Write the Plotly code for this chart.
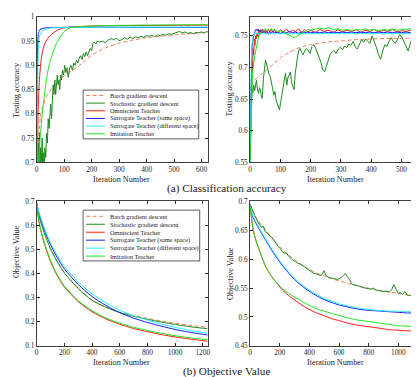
import plotly.graph_objects as go

W, H = 419, 377
FONT = "Liberation Serif"

names = ["Batch gradient descent", "Stochastic gradient descent", "Omniscient Teacher",
         "Surrogate Teacher (same space)", "Surrogate Teacher (different space)", "Imitation Teacher"]
colors = ["#EE8055", "#1F8A1F", "#FF1A1A", "#1A1AFF", "#22F0F0", "#1EE61E"]

# ---------------- (a) accuracy, left panel ----------------
a1_batch_x = [0, 5, 10, 15, 25, 40, 60, 80, 100, 125, 150, 175, 200, 250, 300, 350, 400, 450, 500, 550, 600, 625]
a1_batch_y = [0.5, 0.7, 0.77, 0.8, 0.82, 0.84, 0.856, 0.868, 0.878, 0.888, 0.897, 0.91, 0.921, 0.936, 0.946,
              0.952, 0.957, 0.96, 0.963, 0.965, 0.967, 0.968]
a1_sgd_x = [0, 2, 4, 6, 8, 10, 12, 14, 16, 18, 20, 22, 24, 26, 28, 30, 33, 36, 39, 42, 45, 48, 51, 54, 57, 60,
            63, 66, 69, 72, 75, 78, 81, 84, 87, 90, 94, 98, 102, 106, 110, 115, 120, 125, 130, 135, 140, 145,
            150, 155, 160, 165, 170, 175, 180, 185, 190, 195, 200, 205, 210, 215, 220, 230, 240, 250, 260, 270,
            280, 290, 300, 310, 320, 330, 340, 350, 360, 370, 380, 390, 400, 410, 420, 430, 440, 450, 460, 470,
            480, 490, 500, 510, 520, 530, 540, 550, 560, 570, 580, 590, 600, 610, 620, 625]
a1_sgd_y = [0.5, 0.6, 0.68, 0.74, 0.7, 0.76, 0.68, 0.73, 0.66, 0.72, 0.75, 0.69, 0.72, 0.66, 0.7, 0.73, 0.71,
            0.76, 0.74, 0.79, 0.77, 0.8, 0.82, 0.79, 0.83, 0.86, 0.84, 0.87, 0.84, 0.86, 0.88, 0.86, 0.87, 0.85,
            0.88, 0.87, 0.89, 0.88, 0.9, 0.885, 0.895, 0.875, 0.895, 0.9, 0.89, 0.905, 0.9, 0.91, 0.905, 0.915,
            0.92, 0.912, 0.925, 0.918, 0.928, 0.92, 0.93, 0.935, 0.93, 0.945, 0.948, 0.944, 0.95, 0.948, 0.95,
            0.947, 0.952, 0.955, 0.953, 0.956, 0.951, 0.953, 0.957, 0.954, 0.958, 0.955, 0.959, 0.957, 0.96,
            0.958, 0.961, 0.96, 0.962, 0.959, 0.963, 0.961, 0.964, 0.962, 0.965, 0.964, 0.966, 0.968, 0.97,
            0.967, 0.969, 0.966, 0.968, 0.965, 0.968, 0.967, 0.969, 0.967, 0.97, 0.969]
a1_omni_x = [0, 3, 6, 10, 15, 20, 30, 45, 65, 90, 120, 150, 200, 300, 625]
a1_omni_y = [0.5, 0.72, 0.82, 0.87, 0.905, 0.925, 0.945, 0.959, 0.969, 0.976, 0.979, 0.98, 0.981, 0.982, 0.983]
a1_same_x = [0, 1, 2, 3, 5, 8, 12, 20, 30, 50, 625]
a1_same_y = [0.5, 0.7, 0.85, 0.92, 0.96, 0.97, 0.974, 0.976, 0.977, 0.978, 0.978]
a1_diff_x = [0, 2, 4, 6, 8, 12, 20, 30, 50, 100, 625]
a1_diff_y = [0.5, 0.75, 0.88, 0.93, 0.95, 0.963, 0.97, 0.974, 0.977, 0.978, 0.979]
a1_imit_x = [0, 5, 10, 17, 23, 29, 35, 41, 47, 53, 65, 75, 83, 92, 101, 112, 125, 160, 250, 400, 625]
a1_imit_y = [0.5, 0.66, 0.73, 0.78, 0.815, 0.843, 0.868, 0.889, 0.904, 0.916, 0.936, 0.948, 0.956, 0.964,
             0.97, 0.975, 0.978, 0.98, 0.982, 0.983, 0.984]

# ---------------- (a) accuracy, right panel ----------------
a2_batch_x = [0, 2, 5, 20, 40, 60, 80, 100, 125, 150, 175, 200, 250, 300, 350, 400, 450, 500, 555]
a2_batch_y = [0.55, 0.64, 0.677, 0.682, 0.69, 0.698, 0.707, 0.715, 0.723, 0.729, 0.733, 0.736, 0.74, 0.742,
              0.744, 0.745, 0.746, 0.746, 0.746]
a2_sgd_x = [0, 3, 6, 9, 12, 15, 18, 21, 24, 28, 31, 34, 37, 40, 44, 48, 51, 55, 58, 62, 66, 70, 74, 78, 82, 86,
            90, 94, 97, 101, 105, 109, 113, 117, 121, 125, 129, 133, 137, 141, 145, 149, 153, 157, 161, 165,
            170, 175, 180, 186, 192, 198, 204, 210, 216, 222, 228, 234, 240, 246, 252, 258, 264, 270, 277, 284,
            291, 298, 305, 312, 319, 326, 333, 340, 347, 354, 361, 368, 375, 382, 389, 396, 403, 410, 417, 424,
            431, 438, 445, 452, 459, 466, 473, 480, 487, 494, 501, 508, 515, 522, 529, 536, 543, 550, 555]
a2_sgd_y = [0.56, 0.64, 0.668, 0.66, 0.672, 0.663, 0.676, 0.68, 0.666, 0.659, 0.668, 0.664, 0.655, 0.651,
            0.682, 0.7, 0.712, 0.704, 0.697, 0.69, 0.686, 0.678, 0.668, 0.656, 0.662, 0.648, 0.643, 0.638,
            0.633, 0.645, 0.654, 0.668, 0.68, 0.691, 0.672, 0.684, 0.688, 0.693, 0.676, 0.668, 0.665, 0.69,
            0.71, 0.718, 0.727, 0.73, 0.724, 0.72, 0.726, 0.73, 0.727, 0.722, 0.733, 0.736, 0.731, 0.724,
            0.716, 0.708, 0.696, 0.693, 0.702, 0.712, 0.72, 0.724, 0.727, 0.722, 0.729, 0.732, 0.728, 0.734,
            0.731, 0.737, 0.735, 0.741, 0.733, 0.729, 0.738, 0.744, 0.74, 0.745, 0.741, 0.738, 0.75, 0.742,
            0.732, 0.72, 0.713, 0.726, 0.736, 0.733, 0.742, 0.747, 0.741, 0.738, 0.744, 0.752, 0.748, 0.74,
            0.734, 0.726, 0.738, 0.748, 0.743, 0.739, 0.747]
a2_teach_x = [0, 2, 4, 6, 8, 10, 12, 14, 16, 18, 20, 23, 26, 29, 32, 35, 38, 41, 45, 50, 55, 60, 65, 70, 75,
              80, 90, 100, 110, 120, 130, 140, 150, 160, 170, 180, 190, 200, 215, 230, 245, 260, 275, 290, 305,
              320, 335, 350, 365, 380, 395, 410, 425, 440, 455, 470, 485, 500, 515, 530, 545, 555]
a2_omni_y = [0.55, 0.62, 0.66, 0.71, 0.69, 0.73, 0.72, 0.745, 0.735, 0.75, 0.745, 0.755, 0.748, 0.758, 0.752,
             0.76, 0.754, 0.761, 0.755, 0.759, 0.753, 0.76, 0.756, 0.761, 0.755, 0.759, 0.754, 0.76, 0.756,
             0.761, 0.755, 0.759, 0.757, 0.761, 0.755, 0.76, 0.756, 0.759, 0.755, 0.76, 0.757, 0.759, 0.755,
             0.76, 0.756, 0.759, 0.757, 0.76, 0.755, 0.759, 0.757, 0.76, 0.756, 0.759, 0.757, 0.76, 0.756,
             0.758, 0.757, 0.759, 0.756, 0.758]
a2_same_y = [0.55, 0.64, 0.7, 0.73, 0.74, 0.748, 0.752, 0.755, 0.757, 0.758, 0.76, 0.758, 0.761, 0.757, 0.759,
             0.756, 0.758, 0.755, 0.757, 0.755, 0.757, 0.754, 0.756, 0.755, 0.757, 0.755, 0.756, 0.754, 0.756,
             0.755, 0.757, 0.755, 0.756, 0.754, 0.756, 0.755, 0.756, 0.755, 0.756, 0.755, 0.756, 0.755, 0.756,
             0.755, 0.756, 0.755, 0.756, 0.755, 0.756, 0.755, 0.756, 0.755, 0.756, 0.755, 0.756, 0.755, 0.756,
             0.755, 0.756, 0.755, 0.756, 0.755]
a2_diff_y = [0.55, 0.66, 0.71, 0.735, 0.745, 0.75, 0.752, 0.754, 0.753, 0.755, 0.754, 0.753, 0.755, 0.752,
             0.754, 0.753, 0.754, 0.752, 0.754, 0.753, 0.754, 0.752, 0.754, 0.753, 0.754, 0.752, 0.754, 0.753,
             0.754, 0.753, 0.754, 0.753, 0.754, 0.753, 0.754, 0.753, 0.754, 0.753, 0.754, 0.753, 0.754, 0.753,
             0.754, 0.753, 0.754, 0.753, 0.754, 0.753, 0.754, 0.753, 0.754, 0.753, 0.754, 0.753, 0.754, 0.753,
             0.754, 0.753, 0.754, 0.753, 0.754, 0.753]
a2_imit_y = [0.55, 0.6, 0.64, 0.67, 0.69, 0.7, 0.71, 0.715, 0.72, 0.725, 0.73, 0.738, 0.745, 0.75, 0.752, 0.755,
             0.757, 0.758, 0.759, 0.761, 0.758, 0.76, 0.758, 0.761, 0.759, 0.76, 0.757, 0.758, 0.756, 0.753,
             0.75, 0.748, 0.748, 0.751, 0.755, 0.758, 0.76, 0.759, 0.761, 0.762, 0.761, 0.763, 0.76, 0.761,
             0.759, 0.76, 0.758, 0.76, 0.759, 0.761, 0.759, 0.76, 0.758, 0.76, 0.759, 0.761, 0.759, 0.76, 0.76,
             0.761, 0.76, 0.761]

# ---------------- (b) objective, left panel ----------------
b1_x = [0, 10, 25, 50, 75, 100, 150, 200, 300, 400, 500, 600, 700, 800, 900, 1000, 1100, 1235]
b1_batch_y = [0.693, 0.66, 0.625, 0.58, 0.54, 0.505, 0.45, 0.405, 0.34, 0.29, 0.262, 0.24, 0.226, 0.214,
              0.203, 0.194, 0.186, 0.177]
b1_sgd_y = [0.693, 0.658, 0.623, 0.578, 0.538, 0.503, 0.448, 0.403, 0.338, 0.289, 0.26, 0.238, 0.223, 0.21,
            0.199, 0.189, 0.18, 0.171]
b1_omni_y = [0.693, 0.64, 0.59, 0.535, 0.49, 0.45, 0.39, 0.345, 0.284, 0.242, 0.212, 0.19, 0.172, 0.159,
             0.147, 0.137, 0.129, 0.119]
b1_same_y = [0.693, 0.665, 0.635, 0.59, 0.553, 0.52, 0.465, 0.42, 0.355, 0.305, 0.268, 0.238, 0.215, 0.197,
             0.182, 0.168, 0.157, 0.145]
b1_diff_y = [0.693, 0.668, 0.64, 0.597, 0.56, 0.528, 0.474, 0.43, 0.365, 0.316, 0.279, 0.248, 0.225, 0.207,
             0.191, 0.177, 0.165, 0.152]
b1_imit_y = [0.693, 0.645, 0.595, 0.54, 0.495, 0.455, 0.394, 0.349, 0.288, 0.246, 0.216, 0.194, 0.177,
             0.164, 0.152, 0.142, 0.134, 0.125]

# ---------------- (b) objective, right panel ----------------
b2_batch_x = [0, 20, 50, 107, 160, 218, 270, 329, 385, 440, 500, 551, 610, 662, 720, 773, 830, 884, 940, 996,
              1060, 1140]
b2_batch_y = [0.695, 0.683, 0.668, 0.65, 0.633, 0.617, 0.605, 0.594, 0.585, 0.577, 0.571, 0.566, 0.562, 0.558,
              0.554, 0.551, 0.548, 0.545, 0.543, 0.541, 0.538, 0.535]
b2_sgd_x = [0, 10, 20, 30, 45, 60, 75, 90, 100, 115, 130, 145, 160, 175, 190, 205, 220, 235, 245, 260, 275,
            290, 305, 320, 335, 350, 365, 380, 395, 410, 425, 440, 455, 470, 485, 500, 510, 525, 540, 555, 570,
            585, 600, 615, 630, 645, 655, 670, 685, 700, 720, 740, 760, 780, 800, 815, 830, 845, 860, 880, 900,
            920, 940, 955, 970, 985, 1000, 1015, 1030, 1045, 1060, 1080, 1100, 1120, 1140]
b2_sgd_y = [0.695, 0.688, 0.682, 0.676, 0.668, 0.662, 0.655, 0.657, 0.648, 0.645, 0.642, 0.638, 0.633, 0.627,
            0.622, 0.618, 0.612, 0.61, 0.611, 0.605, 0.601, 0.598, 0.596, 0.593, 0.592, 0.59, 0.587, 0.584,
            0.581, 0.578, 0.576, 0.575, 0.573, 0.572, 0.573, 0.58, 0.572, 0.569, 0.568, 0.567, 0.566, 0.565,
            0.566, 0.568, 0.572, 0.575, 0.57, 0.565, 0.557, 0.556, 0.555, 0.553, 0.551, 0.55, 0.549, 0.548,
            0.55, 0.547, 0.546, 0.545, 0.544, 0.545, 0.543, 0.547, 0.556, 0.548, 0.541, 0.542, 0.539, 0.544,
            0.538, 0.537, 0.537, 0.535, 0.534]
b2_x = [0, 20, 40, 70, 107, 160, 218, 270, 329, 385, 440, 500, 551, 610, 662, 720, 773, 830, 884, 940, 996,
        1060, 1140]
b2_same_y = [0.693, 0.672, 0.662, 0.648, 0.632, 0.61, 0.589, 0.573, 0.558, 0.547, 0.538, 0.53, 0.525, 0.52,
             0.517, 0.514, 0.512, 0.511, 0.51, 0.509, 0.508, 0.507, 0.507]
b2_diff_y = [0.693, 0.674, 0.664, 0.65, 0.634, 0.612, 0.591, 0.575, 0.56, 0.549, 0.54, 0.532, 0.527, 0.522,
             0.519, 0.516, 0.514, 0.512, 0.511, 0.51, 0.51, 0.509, 0.509]
b2_omni_y = [0.693, 0.652, 0.632, 0.61, 0.586, 0.565, 0.547, 0.535, 0.524, 0.515, 0.508, 0.502, 0.497, 0.493,
             0.489, 0.486, 0.484, 0.482, 0.48, 0.478, 0.477, 0.476, 0.475]
b2_imit_y = [0.693, 0.652, 0.632, 0.61, 0.586, 0.565, 0.549, 0.539, 0.53, 0.522, 0.515, 0.51, 0.506, 0.502,
             0.498, 0.495, 0.493, 0.491, 0.489, 0.487, 0.485, 0.484, 0.483]

fig = go.Figure()


def add(ax, x, y, i, smooth=False):
    line = dict(color=colors[i], width=1)
    if i == 0:
        line["dash"] = "4px,2.5px"
    if smooth:
        line["shape"] = "spline"
        line["smoothing"] = 0.8
    fig.add_trace(go.Scatter(x=x, y=y, mode="lines", line=line, name=names[i], showlegend=False,
                             xaxis="x" + ax, yaxis="y" + ax, cliponaxis=True))


add("", a1_batch_x, a1_batch_y, 0, True)
add("", a1_sgd_x, a1_sgd_y, 1)
add("", a1_omni_x, a1_omni_y, 2, True)
add("", a1_same_x, a1_same_y, 3, True)
add("", a1_diff_x, a1_diff_y, 4, True)
add("", a1_imit_x, a1_imit_y, 5, True)

add("2", a2_batch_x, a2_batch_y, 0, True)
add("2", a2_sgd_x, a2_sgd_y, 1)
add("2", a2_teach_x, a2_omni_y, 2)
add("2", a2_teach_x, a2_same_y, 3)
add("2", a2_teach_x, a2_diff_y, 4)
add("2", a2_teach_x, a2_imit_y, 5)

add("3", b1_x, b1_batch_y, 0, True)
add("3", b1_x, b1_sgd_y, 1, True)
add("3", b1_x, b1_omni_y, 2, True)
add("3", b1_x, b1_same_y, 3, True)
add("3", b1_x, b1_diff_y, 4, True)
add("3", b1_x, b1_imit_y, 5, True)

add("4", b2_batch_x, b2_batch_y, 0, True)
add("4", b2_sgd_x, b2_sgd_y, 1)
add("4", b2_x, b2_omni_y, 2, True)
add("4", b2_x, b2_same_y, 3, True)
add("4", b2_x, b2_diff_y, 4, True)
add("4", b2_x, b2_imit_y, 5, True)


def px(v):
    return v / W


def py(v):
    return 1 - v / H


tick_font = dict(family=FONT, size=7.3, color="#262626")


def axis(domain, rng, vals, texts=None, anchor=None):
    d = dict(domain=domain, range=rng, tickvals=vals, ticks="inside", ticklen=3, tickwidth=0.7,
             tickcolor="#262626", showline=True, linecolor="#404040", linewidth=0.8, mirror="ticks",
             showgrid=False, zeroline=False, tickfont=tick_font, anchor=anchor)
    if texts is not None:
        d["ticktext"] = texts
    return d


xl = [px(27), px(200)]
xr = [px(243), px(414)]
yt = [py(154), py(5)]
yb = [py(342), py(194)]

fig.update_layout(
    width=W, height=H, margin=dict(l=0, r=0, t=0, b=0),
    paper_bgcolor="white", plot_bgcolor="white", showlegend=False,
    xaxis=axis(xl, [0, 622], [0, 100, 200, 300, 400, 500, 600], anchor="y"),
    yaxis=axis(yt, [0.7, 1.0], [0.7, 0.75, 0.8, 0.85, 0.9, 0.95, 1.0],
               ["0.7", "0.75", "0.8", "0.85", "0.9", "0.95", "1"], anchor="x"),
    xaxis2=axis(xr, [0, 558], [0, 100, 200, 300, 400, 500], anchor="y2"),
    yaxis2=axis(yt, [0.55, 0.78], [0.55, 0.6, 0.65, 0.7, 0.75],
                ["0.55", "0.6", "0.65", "0.7", "0.75"], anchor="x2"),
    xaxis3=axis(xl, [0, 1235], [0, 200, 400, 600, 800, 1000, 1200], anchor="y3"),
    yaxis3=axis(yb, [0.1, 0.7], [0.1, 0.2, 0.3, 0.4, 0.5, 0.6, 0.7],
                ["0.1", "0.2", "0.3", "0.4", "0.5", "0.6", "0.7"], anchor="x3"),
    xaxis4=axis(xr, [0, 1140], [0, 200, 400, 600, 800, 1000], anchor="y4"),
    yaxis4=axis(yb, [0.45, 0.7], [0.45, 0.5, 0.55, 0.6, 0.65, 0.7],
                ["0.45", "0.5", "0.55", "0.6", "0.65", "0.7"], anchor="x4"),
)

ann = []
shapes = []


def text(x, y, s, size, angle=0, xanchor="center"):
    ann.append(dict(x=px(x), y=py(y), xref="paper", yref="paper", text=s, showarrow=False, textangle=angle,
                    xanchor=xanchor, yanchor="middle", font=dict(family=FONT, size=size, color="#1a1a1a")))


# axis titles and captions
text(113, 172, "Iteration Number", 8.2)
text(329, 172, "Iteration Number", 8.2)
text(113, 359, "Iteration Number", 8.2)
text(329, 359, "Iteration Number", 8.2)
text(6, 80, "Testing accuracy", 8.2, -90)
text(222, 78, "Testing accuracy", 8.2, -90)
text(6, 245, "Objective Value", 8.2, -90)
text(223, 268, "Objective Value", 8.2, -90)
text(219.5, 181, "(a) Classification accuracy", 11.2)
text(219.5, 368, "(b) Objective Value", 11.2)

# legends
for box, y0, step in [((74, 80, 191, 130), 85.5, 7.85), ((74, 203, 192, 255), 209.3, 8.15)]:
    shapes.append(dict(type="rect", xref="paper", yref="paper", x0=px(box[0]), x1=px(box[2]),
                       y0=py(box[1]), y1=py(box[3]), line=dict(color="#333333", width=0.8),
                       fillcolor="white", layer="above"))
    for i, nm in enumerate(names):
        yy = y0 + i * step
        ln = dict(color=colors[i], width=1)
        if i == 0:
            ln["dash"] = "4px,2.5px"
        shapes.append(dict(type="line", xref="paper", yref="paper", x0=px(77), x1=px(96),
                           y0=py(yy), y1=py(yy), line=ln, layer="above"))
        text(99, yy, nm, 6.3, xanchor="left")

fig.update_layout(annotations=ann, shapes=shapes)
fig.write_html("out.html")
